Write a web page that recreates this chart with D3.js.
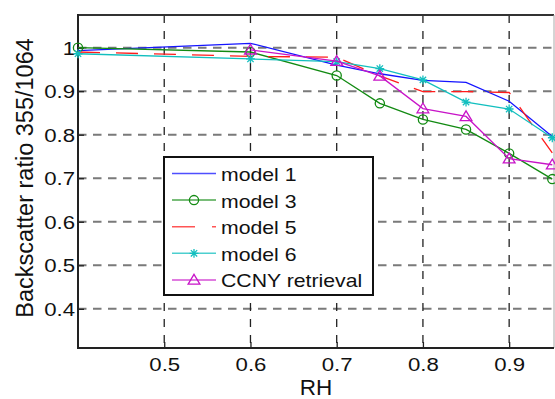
<!DOCTYPE html>
<html>
<head>
<meta charset="utf-8">
<script src="https://cdn.jsdelivr.net/npm/d3@7"></script>
<style>
  html, body { margin: 0; padding: 0; background: #fff; }
  svg { display: block; }
  text { font-family: "Liberation Sans", Arial, Helvetica, sans-serif; fill: #111; }
</style>
</head>
<body>
<svg id="chart" width="555" height="399"></svg>
<script>
// Relative humidity sample points
const rh = [0.4, 0.6, 0.7, 0.75, 0.8, 0.85, 0.9, 0.95];

// Backscatter ratio 355/1064 per model
const model1 = [0.993, 1.010, 0.960, 0.940, 0.925, 0.920, 0.877, 0.796];
const model3 = [1.000, 0.990, 0.936, 0.872, 0.835, 0.812, 0.757, 0.698];
const model5 = [0.990, 0.980, 0.978, 0.935, 0.899, 0.899, 0.897, 0.758];
const model6 = [0.986, 0.974, 0.968, 0.952, 0.926, 0.875, 0.859, 0.793];
// Retrieval starts at RH 0.6
const ccnyRh = [0.6, 0.7, 0.75, 0.8, 0.85, 0.9, 0.95];
const ccny   = [0.995, 0.969, 0.935, 0.860, 0.842, 0.745, 0.731];

const xTicks = [0.5, 0.6, 0.7, 0.8, 0.9];
const yTicks = [0.4, 0.5, 0.6, 0.7, 0.8, 0.9, 1];
const seriesNames = ["model 1", "model 3", "model 5", "model 6", "CCNY retrieval"];

const series = [
  { name: seriesNames[0], xs: rh, ys: model1, color: "#1414ff", marker: null, dash: null },
  { name: seriesNames[1], xs: rh, ys: model3, color: "#128a12", marker: "circle", dash: null },
  { name: seriesNames[2], xs: rh, ys: model5, color: "#ff1c1c", marker: null, dash: "22,16" },
  { name: seriesNames[3], xs: rh, ys: model6, color: "#12bfbf", marker: "star", dash: null },
  { name: seriesNames[4], xs: ccnyRh, ys: ccny, color: "#c814c8", marker: "triangle", dash: null }
];

const svg = d3.select("#chart");
const L = 78, R = 554, T = 15, B = 348;
const x = d3.scaleLinear().domain([0.4, 0.952]).range([L, R]);
const y = d3.scaleLinear().domain([0.31, 1.075]).range([B, T]);
const stretch = 1.2;

// Grid lines
const grid = svg.append("g");
grid.selectAll("line.gy").data(yTicks).join("line")
  .attr("x1", L).attr("x2", R)
  .attr("y1", d => y(d)).attr("y2", d => y(d))
  .attr("stroke", "#7a7a7a").attr("stroke-width", 2)
  .attr("stroke-dasharray", "8.5,6.5");
grid.selectAll("line.gx").data(xTicks).join("line")
  .attr("x1", d => x(d)).attr("x2", d => x(d))
  .attr("y1", T).attr("y2", B)
  .attr("stroke", "#222").attr("stroke-width", 1.3)
  .attr("stroke-dasharray", "8,8");

// Axes with inward ticks
const xAxis = svg.append("g").attr("transform", `translate(0,${B})`)
  .call(d3.axisBottom(x).tickValues(xTicks).tickSizeInner(-6).tickSizeOuter(0)
    .tickFormat(d3.format(".1f")));
xAxis.select(".domain").remove();
xAxis.selectAll(".tick line").attr("stroke", "#222").attr("stroke-width", 1.3);
xAxis.selectAll(".tick text")
  .attr("y", 23).attr("dy", 0)
  .attr("font-size", 18.5)
  .attr("transform", `scale(${stretch},1)`)
  .style("font-family", "Liberation Sans, Arial, sans-serif")
  .attr("fill", "#111");

const yAxis = svg.append("g").attr("transform", `translate(${L},0)`)
  .call(d3.axisLeft(y).tickValues(yTicks).tickSizeInner(-6).tickSizeOuter(0)
    .tickFormat(d => d === 1 ? "1" : d3.format(".1f")(d)));
yAxis.select(".domain").remove();
yAxis.selectAll(".tick line").attr("stroke", "#222").attr("stroke-width", 1.3);
yAxis.selectAll(".tick text")
  .attr("x", -2.5).attr("dy", "0.35em")
  .attr("font-size", 18.5)
  .attr("transform", `scale(${stretch},1)`)
  .style("font-family", "Liberation Sans, Arial, sans-serif")
  .attr("fill", "#111");

// Plot box
svg.append("line").attr("x1", L).attr("x2", R).attr("y1", T).attr("y2", T)
  .attr("stroke", "#333").attr("stroke-width", 2);
svg.append("line").attr("x1", R).attr("x2", R).attr("y1", T).attr("y2", B)
  .attr("stroke", "#aaa").attr("stroke-width", 1);
svg.append("line").attr("x1", L).attr("x2", L).attr("y1", T - 1).attr("y2", B + 1)
  .attr("stroke", "#222").attr("stroke-width", 2);
svg.append("line").attr("x1", L).attr("x2", R).attr("y1", B).attr("y2", B)
  .attr("stroke", "#222").attr("stroke-width", 2);

// Marker shapes
function drawMarker(g, type, cx, cy, color) {
  if (type === "circle") {
    g.append("circle").attr("cx", cx).attr("cy", cy).attr("r", 4.6)
      .attr("fill", "none").attr("stroke", color).attr("stroke-width", 1.3);
  } else if (type === "triangle") {
    const s = 5.6;
    g.append("path")
      .attr("d", `M${cx},${cy - s}L${cx + s * 1.05},${cy + s * 0.75}L${cx - s * 1.05},${cy + s * 0.75}Z`)
      .attr("fill", "none").attr("stroke", color).attr("stroke-width", 1.3);
  } else if (type === "star") {
    const s = 4.4, d = s * 0.72;
    g.append("path")
      .attr("d", `M${cx - s},${cy}H${cx + s}M${cx},${cy - s}V${cy + s}` +
                 `M${cx - d},${cy - d}L${cx + d},${cy + d}M${cx - d},${cy + d}L${cx + d},${cy - d}`)
      .attr("fill", "none").attr("stroke", color).attr("stroke-width", 1.3);
  }
}

// Series lines and markers
const plot = svg.append("g");
const line = d3.line().x(d => x(d[0])).y(d => y(d[1]));
series.forEach(s => {
  const pts = s.xs.map((v, i) => [v, s.ys[i]]);
  plot.append("path").datum(pts)
    .attr("d", line)
    .attr("fill", "none")
    .attr("stroke", s.color)
    .attr("stroke-width", 1.3)
    .attr("stroke-dasharray", s.dash);
  if (s.marker) {
    const mg = plot.append("g");
    pts.forEach(p => drawMarker(mg, s.marker, x(p[0]), y(p[1]), s.color));
  }
});

// Legend
const lg = svg.append("g");
const lx0 = 164, ly0 = 157, lw = 209, lh = 138;
lg.append("rect").attr("x", lx0).attr("y", ly0).attr("width", lw).attr("height", lh)
  .attr("fill", "#fff").attr("stroke", "#111").attr("stroke-width", 2);
series.forEach((s, i) => {
  const ly = 173.5 + i * 26.6;
  lg.append("line").attr("x1", 172).attr("x2", 216).attr("y1", ly).attr("y2", ly)
    .attr("stroke", s.color).attr("stroke-width", 1.5).attr("stroke-opacity", 0.75)
    .attr("stroke-dasharray", s.dash ? "23,17" : null);
  if (s.marker) drawMarker(lg, s.marker, 194, ly, s.color);
  lg.append("text")
    .attr("transform", `translate(221,${ly + 7.5}) scale(${stretch},1)`)
    .attr("font-size", 17.7)
    .text(s.name);
});

// Axis titles
svg.append("text")
  .attr("x", 316).attr("y", 395)
  .attr("text-anchor", "middle")
  .attr("font-size", 22.5)
  .text("RH");
svg.append("text")
  .attr("transform", "translate(33,178) rotate(-90)")
  .attr("text-anchor", "middle")
  .attr("font-size", 23.5)
  .text("Backscatter ratio 355/1064");
</script>
</body>
</html>
